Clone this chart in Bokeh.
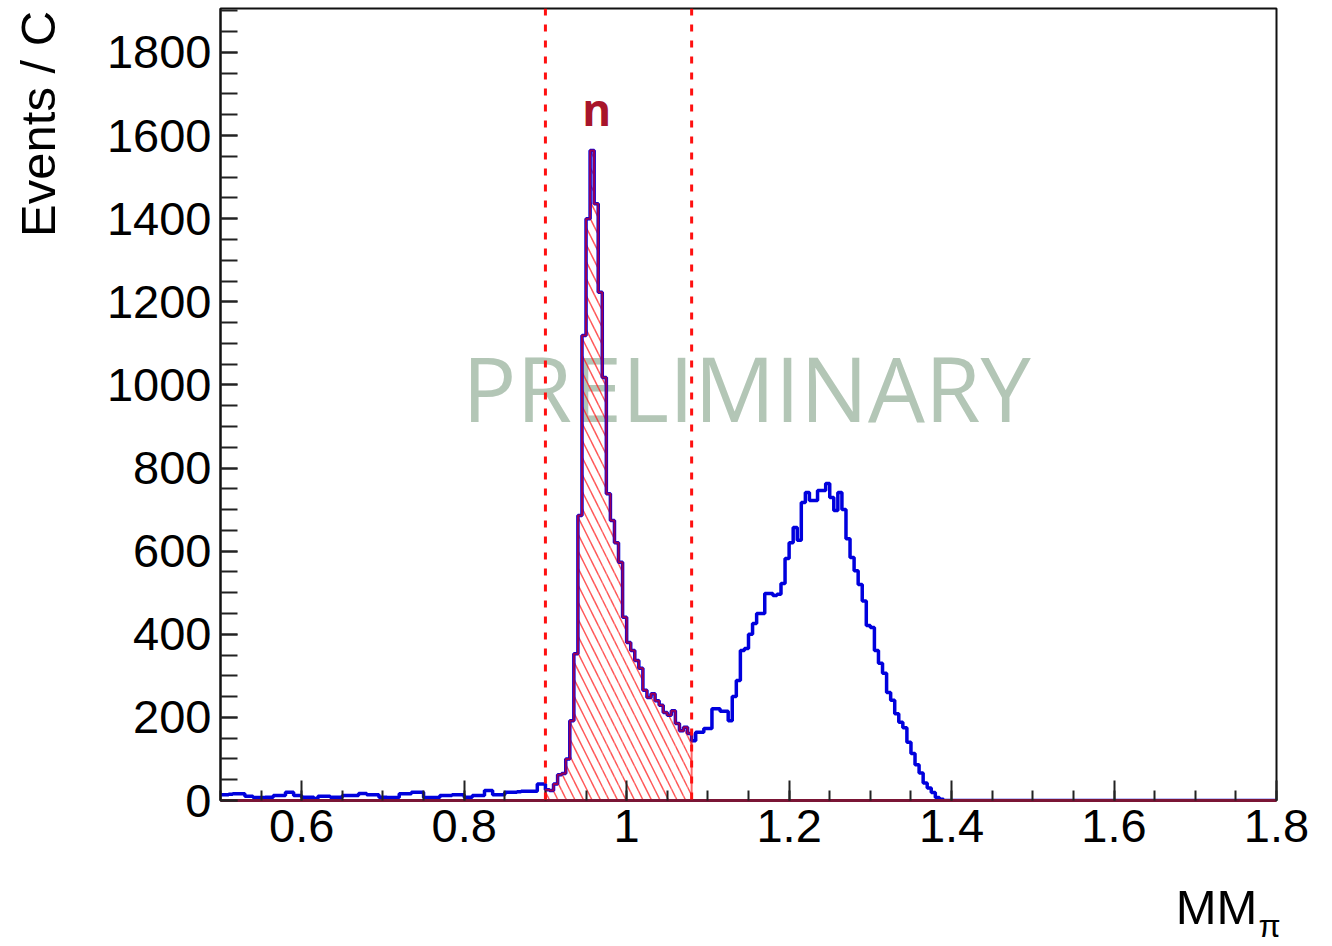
import numpy as np
from bokeh.plotting import figure
from bokeh.models import (Range1d, FixedTicker, Span, Label, LinearAxis,
                          CustomJSTickFormatter)
from bokeh.embed import file_html
from bokeh.resources import INLINE

# ---------------- data ----------------
x_min, x_max, bin_width = 0.5, 1.8, 0.005
cut_lo, cut_hi = 0.9, 1.08

# bins 0.500 - 0.900
counts_low = [14, 14, 15, 16, 16, 16, 10, 10, 7, 7,
              7, 8, 8, 12, 12, 12, 20, 20, 12, 12,
              8, 8, 8, 5, 10, 10, 10, 8, 8, 8,
              12, 12, 12, 12, 17, 17, 14, 14, 14, 8,
              8, 7, 7, 7, 16, 16, 16, 20, 20, 20,
              7, 7, 7, 7, 12, 12, 12, 14, 14, 14,
              8, 8, 12, 12, 12, 24, 24, 14, 14, 14,
              20, 20, 20, 21, 22, 22, 22, 22, 40, 40]
# bins 0.900 - 1.080 (selected neutron peak)
counts_cut = [26, 24, 40, 62, 65, 100, 192, 353, 686, 1119, 1400, 1564,
              1436, 1223, 1018, 738, 674, 620, 573, 441, 380, 361, 337, 318,
              265, 248, 257, 240, 229, 212, 205, 216, 185, 168, 176, 161]
# bins 1.080 - 1.800
counts_high = [144, 164, 164, 173, 173, 221, 221, 215, 215, 192,
               250, 289, 361, 366, 400, 426, 450, 450, 498, 498,
               493, 496, 522, 582, 620, 657, 626, 717, 741, 722,
               722, 746, 746, 763, 729, 698, 741, 700, 630, 585,
               553, 520, 480, 421, 416, 361, 330, 306, 260, 241,
               209, 188, 175, 140, 113, 86, 66, 42, 30, 19,
               7, 3, 0, 0, 0, 0, 0, 0, 0, 0,
               0, 0, 0, 0, 0, 0, 0, 0, 0, 0,
               0, 0, 0, 0, 0, 0, 0, 0, 0, 0,
               0, 0, 0, 0, 0, 0, 0, 0, 0, 0,
               0, 0, 0, 0, 0, 0, 0, 0, 0, 0,
               0, 0, 0, 0, 0, 0, 0, 0, 0, 0,
               0, 0, 0, 0, 0, 0, 0, 0, 0, 0,
               0, 0, 0, 0, 0, 0, 0, 0, 0, 0,
               0, 0, 0, 0]

x_ticks = [0.6, 0.8, 1.0, 1.2, 1.4, 1.6, 1.8]
x_tick_labels = ["0.6", "0.8", "1", "1.2", "1.4", "1.6", "1.8"]
x_minor = [round(0.5 + 0.05 * i, 3) for i in range(27)]
y_ticks = [0, 200, 400, 600, 800, 1000, 1200, 1400, 1600, 1800]
y_tick_labels = ["0", "200", "400", "600", "800", "1000", "1200", "1400", "1600", "1800"]
y_minor = [50 * i for i in range(39)]

# axis titles, ROOT style (placed at the axis ends)
x_title_main, x_title_sub = "MM", "π"
y_title = "Events / C"
x_title_pos, x_sub_pos, y_title_pos = 1.7262, 1.7914, 1628

# ---------------- histogram geometry via scales ----------------
counts = np.array(counts_low + counts_cut + counts_high, dtype=float)
n_bins = len(counts)
edges = np.round(x_min + bin_width * np.arange(n_bins + 1), 6)
centers = 0.5 * (edges[:-1] + edges[1:])
in_cut = (centers > cut_lo) & (centers < cut_hi)
red_counts = np.where(in_cut, counts, 0.0)

p = figure(frame_width=1056, frame_height=792,
           x_range=Range1d(x_min, x_max), y_range=Range1d(0, 1905.7),
           output_backend="svg", toolbar_location=None,
           min_border_left=220, min_border_right=54,
           min_border_top=8, min_border_bottom=136,
           background_fill_color="white", border_fill_color="white")
p.grid.visible = False
p.outline_line_color = "#111111"
p.outline_line_width = 2

# watermark (under the data)
p.add_layout(Label(x=1.1476, y=994, text="PRELIMINARY", text_align="center",
                   text_baseline="alphabetic", text_font="Open Sans",
                   text_font_size="90px", text_color="#b3c6b6", level="underlay"))

# hatched selected region
p.quad(left=edges[:-1][in_cut], right=edges[1:][in_cut], bottom=0,
       top=counts[in_cut], fill_alpha=0, line_alpha=0,
       hatch_pattern="\\", hatch_color="#ff2020", hatch_alpha=0.75,
       hatch_weight=1.5, hatch_scale=17)

# histograms
p.step(x=edges, y=np.append(counts, counts[-1]), mode="after",
       line_color="#0000dd", line_width=3.5)
p.step(x=edges, y=np.append(red_counts, red_counts[-1]), mode="after",
       line_color="#ff0000", line_width=2, line_alpha=0.6)

# cut lines
for loc in (cut_lo, cut_hi):
    p.add_layout(Span(location=loc, dimension="height", line_color="#ff1010",
                      line_width=3, line_dash="7 9"))

p.add_layout(Label(x=0.963, y=1665, text="n", text_align="center",
                   text_baseline="alphabetic", text_font="Open Sans",
                   text_font_style="bold", text_font_size="44px",
                   text_color="#a8152b"))

# axes
fmt_code = """
const i = tick_vals.findIndex(t => Math.abs(t - tick) < 1e-9);
return i >= 0 ? tick_text[i] : '';
"""
def fmt(vals, texts):
    return CustomJSTickFormatter(args=dict(tick_vals=vals, tick_text=texts), code=fmt_code)

p.xaxis.ticker = FixedTicker(ticks=x_ticks, minor_ticks=x_minor)
p.xaxis.formatter = fmt(x_ticks, x_tick_labels)
p.yaxis.ticker = FixedTicker(ticks=y_ticks, minor_ticks=y_minor)
p.yaxis.formatter = fmt(y_ticks, y_tick_labels)

for ax in (p.xaxis[0], p.yaxis[0]):
    ax.axis_line_width = 2
    ax.axis_line_color = "#111111"
    ax.major_tick_line_color = "#222222"
    ax.minor_tick_line_color = "#222222"
    ax.major_tick_line_width = 2
    ax.minor_tick_line_width = 2
    ax.major_tick_out = 0
    ax.minor_tick_out = 0
    ax.major_label_text_font = "Liberation Sans"
    ax.major_label_text_font_size = "47px"
    ax.major_label_text_color = "black"
    ax.major_label_standoff = 9

p.xaxis.axis_line_color = "#7a1535"
p.xaxis.axis_line_width = 3
p.xaxis.major_tick_in = 20
p.xaxis.minor_tick_in = 10
p.yaxis.major_tick_in = 17
p.yaxis.minor_tick_in = 17

def title_axis(pos, text, size, standoff, **kw):
    return LinearAxis(ticker=FixedTicker(ticks=[pos], minor_ticks=[]),
                      formatter=fmt([pos], [text]),
                      axis_line_color=None, major_tick_line_color=None,
                      minor_tick_line_color=None, major_tick_in=0, major_tick_out=0,
                      minor_tick_in=0, minor_tick_out=0,
                      major_label_standoff=standoff,
                      major_label_text_font="Liberation Sans",
                      major_label_text_font_size=size,
                      major_label_text_color="black", **kw)

p.add_layout(title_axis(x_title_pos, x_title_main, "49px", 35), "below")
p.add_layout(title_axis(x_sub_pos, x_title_sub, "32px", -29), "below")
p.add_layout(title_axis(y_title_pos, y_title, "49px", 38,
                        major_label_orientation="parallel"), "left")

open("out.html", "w").write(file_html(p, INLINE))
